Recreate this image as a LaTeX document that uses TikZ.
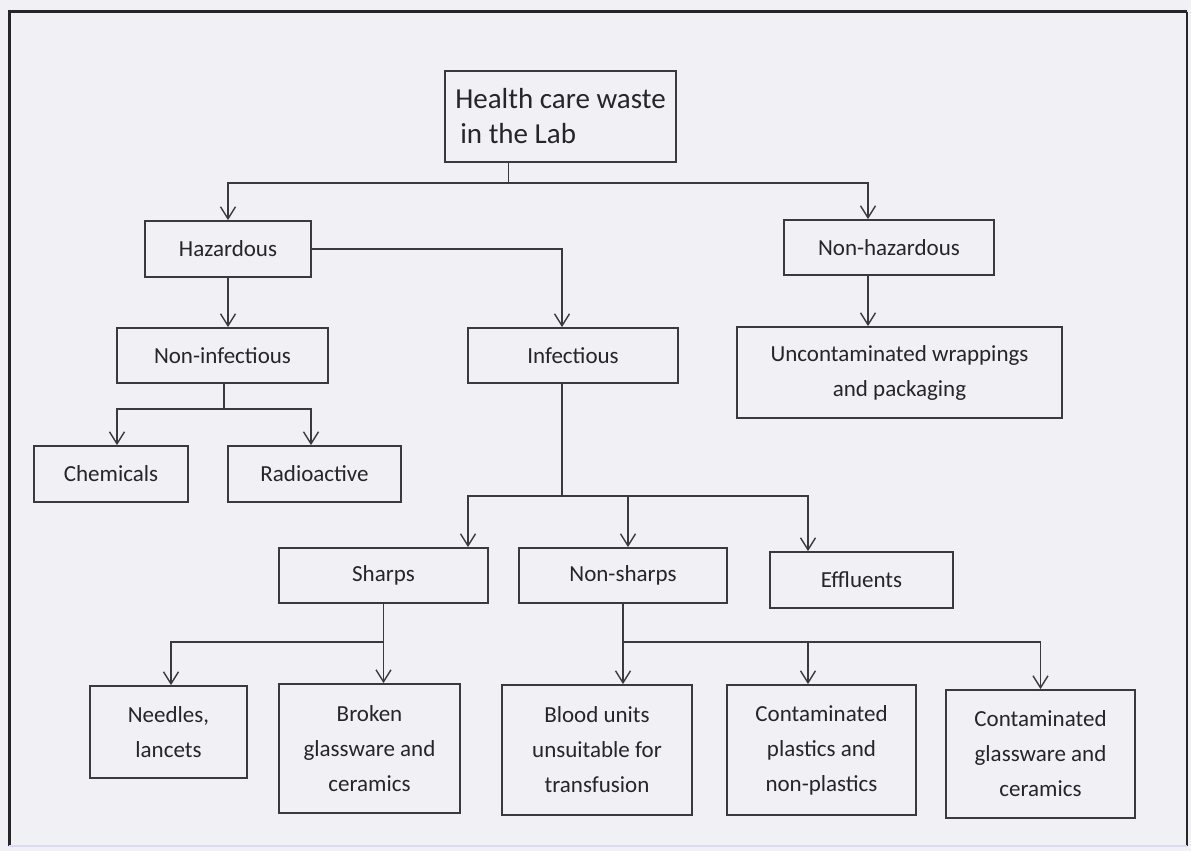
\documentclass[tikz,border=0pt]{standalone}
\usepackage{fontspec}
\setmainfont{Carlito}
\usepackage{tikz}
\usetikzlibrary{arrows.meta, positioning, calc}
\definecolor{pagebg}{RGB}{241,240,245}
\definecolor{linegray}{RGB}{58,58,62}
\definecolor{textgray}{RGB}{38,38,42}

\begin{document}
\begin{tikzpicture}[
    x=1pt, y=-1pt,
    font=\fontsize{23}{35}\selectfont,
    text=textgray,
    >={Straight Barb[length=12pt, width=15pt, line width=1.4pt]},
    box/.style={rectangle, draw=linegray, line width=1.8pt, align=center, inner sep=0pt},
    arrow/.style={->, draw=linegray, line width=1.6pt},
    link/.style={draw=linegray, line width=1.6pt},
]
    % Page and frame
    \fill[pagebg] (0,0) rectangle (1191,851);
    \useasboundingbox (0,0) rectangle (1191,851);
    \draw[line width=3pt, black!85] (9,846) -- (9,12) -- (1187,12);
    \draw[line width=2pt, black!85] (1187,12) -- (1187,846);
    \draw[line width=1.5pt, blue!15] (9,846) -- (1187,846);

    % Top levels
    \node[box, minimum width=231pt, minimum height=91pt, align=left, font=\fontsize{29}{35}\selectfont] (health) at (560.5,116.5) {Health care waste\\\hspace*{5pt}in the Lab};
    \node[box, minimum width=166pt, minimum height=56pt] (haz) at (228,249) {Hazardous};
    \node[box, minimum width=210pt, minimum height=55pt] (nonhaz) at (889,247.5) {Non-hazardous};

    \draw[link] ([xshift=-52pt]health.south) -- ++(0,20) coordinate (hsplit);
    \draw[arrow] (hsplit) -| (haz.north);
    \draw[arrow] (hsplit) -| ([xshift=-21pt]nonhaz.north);

    % Second level
    \node[box, minimum width=211pt, minimum height=55pt] (noninf) at (222.5,355.5) {Non-infectious};
    \node[box, minimum width=210pt, minimum height=55pt] (inf) at (573,355.5) {Infectious};
    \node[box, minimum width=325pt, minimum height=91pt] (uncont) at (899.5,372.5) {Uncontaminated wrappings\\and packaging};

    \draw[arrow] (haz.south) -- (haz.south |- noninf.north);
    \draw[arrow] (haz.east) -| ([xshift=-11pt]inf.north);
    \draw[arrow] ([xshift=-21pt]nonhaz.south) -- ([xshift=-31.5pt]uncont.north);

    % Non-infectious
    \node[box, minimum width=154pt, minimum height=56pt] (chem) at (111,474) {Chemicals};
    \node[box, minimum width=173pt, minimum height=56pt] (radio) at (314.5,474) {Radioactive};

    \draw[link] ([xshift=1.5pt]noninf.south) -- ++(0,25) coordinate (nisplit);
    \draw[arrow] (nisplit) -| ([xshift=6pt]chem.north);
    \draw[arrow] (nisplit) -| ([xshift=-3.5pt]radio.north);

    % Infectious
    \node[box, minimum width=209pt, minimum height=55pt] (sharps) at (383.5,575.5) {Sharps};
    \node[box, minimum width=208pt, minimum height=55pt] (nonsharps) at (623,575.5) {Non-sharps};
    \node[box, minimum width=183pt, minimum height=56pt] (effl) at (861.5,580) {Effluents};

    \draw[link] ([xshift=-11pt]inf.south) -- ++(0,112) coordinate (isplit);
    \draw[arrow] (isplit) -| ([xshift=84.5pt]sharps.north);
    \draw[arrow] (isplit) -| ([xshift=5pt]nonsharps.north);
    \draw[arrow] (isplit) -| ([xshift=-53.5pt]effl.north);

    % Bottom row
    \node[box, minimum width=157pt, minimum height=92pt] (needles) at (168.5,732) {Needles,\\lancets};
    \node[box, minimum width=181pt, minimum height=129pt] (broken) at (369.5,748.5) {Broken\\glassware and\\ceramics};
    \node[box, minimum width=190pt, minimum height=130pt] (blood) at (597,750) {Blood units\\unsuitable for\\transfusion};
    \node[box, minimum width=189pt, minimum height=130pt] (contpl) at (821.5,750) {Contaminated\\plastics and\\non-plastics};
    \node[box, minimum width=189pt, minimum height=128pt] (contgl) at (1040.5,754) {Contaminated\\glassware and\\ceramics};

    \draw[link] (sharps.south) -- ++(0,38) coordinate (ssplit);
    \draw[arrow] (ssplit) -| ([xshift=2.5pt]needles.north);
    \draw[arrow] (ssplit) -- (ssplit |- broken.north);

    \draw[link] (nonsharps.south) -- ++(0,38) coordinate (nssplit);
    \draw[arrow] (nssplit) -- (nssplit |- blood.north);
    \draw[arrow] (nssplit) -| ([xshift=-13.5pt]contpl.north);
    \draw[arrow] (nssplit) -| (contgl.north);

\end{tikzpicture}
\end{document}
